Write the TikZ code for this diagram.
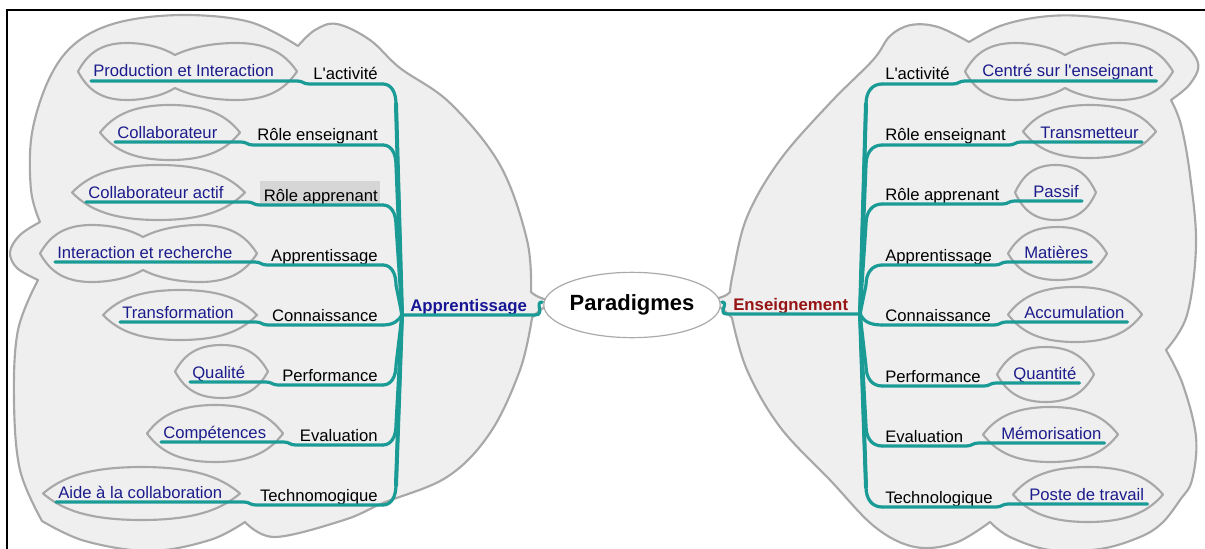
\documentclass[tikz,border=0pt]{standalone}
\usepackage{fontspec}
\setmainfont{Liberation Sans}
\usetikzlibrary{calc,shapes.geometric}

\definecolor{branch}{RGB}{26,155,150}
\definecolor{leafblue}{RGB}{28,28,140}
\definecolor{mainblue}{RGB}{22,22,150}
\definecolor{mainred}{RGB}{150,20,20}
\definecolor{blobfill}{RGB}{239,239,239}
\definecolor{blobline}{RGB}{168,168,168}
\definecolor{centerline}{RGB}{170,170,170}
\definecolor{hilite}{RGB}{214,214,214}

\tikzset{
  txt/.style={inner sep=0pt, font=\fontsize{12.5}{15}\selectfont},
  lbl/.style={txt, text=black},
  leaf/.style={txt, text=leafblue},
  ul/.style={draw=branch, line width=2.4pt, line cap=round, line join=round},
  trunk/.style={draw=branch, line width=3pt, line cap=round},
  cloudline/.style={draw=blobline, line width=1.6pt, line join=round},
  blob/.style={draw=blobline, fill=blobfill, line width=1.6pt, line join=round},
}

% single almond-shaped bubble: x1 y1 x2 y2
\newcommand\lens[4]{%
  \pgfmathsetmacro\clcx{(#1+#3)/2}\pgfmathsetmacro\clcy{(#2+#4)/2}%
  \pgfmathsetmacro\clw{#3-#1}\pgfmathsetmacro\clh{#4-#2}%
  \draw[cloudline] (#1,\clcy)
    .. controls (#1+0.08*\clw,\clcy-0.25*\clh) and (\clcx-0.3*\clw,#2) .. (\clcx,#2)
    .. controls (\clcx+0.3*\clw,#2) and (#3-0.08*\clw,\clcy-0.25*\clh) .. (#3,\clcy)
    .. controls (#3-0.08*\clw,\clcy+0.25*\clh) and (\clcx+0.3*\clw,#4) .. (\clcx,#4)
    .. controls (\clcx-0.3*\clw,#4) and (#1+0.08*\clw,\clcy+0.25*\clh) .. (#1,\clcy) -- cycle;}

% two-lobed bubble: x1 y1 x2 y2 notch-x notch-depth
\newcommand\dlens[6]{%
  \pgfmathsetmacro\clcy{(#2+#4)/2}\pgfmathsetmacro\clh{#4-#2}%
  \pgfmathsetmacro\clma{(#1+#5)/2}\pgfmathsetmacro\clmb{(#5+#3)/2}%
  \pgfmathsetmacro\clwa{\clma-#1}\pgfmathsetmacro\clwb{#3-\clmb}%
  \draw[cloudline] (#1,\clcy)
   .. controls (#1+0.16*\clwa,\clcy-0.25*\clh) and (\clma-0.6*\clwa,#2) .. (\clma,#2)
   .. controls (\clma+0.45*\clwa,#2) and (#5-0.2*\clwa,#2+0.5*#6) .. (#5,#2+#6)
   .. controls (#5+0.2*\clwb,#2+0.5*#6) and (\clmb-0.45*\clwb,#2) .. (\clmb,#2)
   .. controls (\clmb+0.6*\clwb,#2) and (#3-0.16*\clwb,\clcy-0.25*\clh) .. (#3,\clcy)
   .. controls (#3-0.16*\clwb,\clcy+0.25*\clh) and (\clmb+0.6*\clwb,#4) .. (\clmb,#4)
   .. controls (\clmb-0.45*\clwb,#4) and (#5+0.2*\clwb,#4-0.5*#6) .. (#5,#4-#6)
   .. controls (#5-0.2*\clwa,#4-0.5*#6) and (\clma+0.45*\clwa,#4) .. (\clma,#4)
   .. controls (\clma-0.6*\clwa,#4) and (#1+0.16*\clwa,\clcy+0.25*\clh) .. (#1,\clcy) -- cycle;}

% left-hand branch: id, underline y, label, leaf x, leaf text
\newcommand\lbranch[5]{%
  \node[lbl, anchor=base east] (#1) at (378,#2-4) {#3};
  \node[leaf, anchor=base west] (#1f) at (#4,#2-7) {#5};
  \draw[ul] ($(#1f.base west)+(-2,4)$) -- ($(#1.base west)+(-16,1)$)
     .. controls +(6,0) and +(-6,0) .. ($(#1.base west)+(-4,4)$) -- ($(#1.base east)+(5,4)$);
  \ifnum#2<300
    \draw[ul] ($(#1.base east)+(5,4)$) .. controls (391,#2) and (396,#2+8) .. (396,#2+20) -- (jl);
  \else\ifnum#2<340
    \draw[ul] ($(#1.base east)+(5,4)$) .. controls (394,#2) and (399,#2-5) .. (jl);
  \else
    \draw[ul] ($(#1.base east)+(5,4)$) .. controls (391,#2) and (396,#2-8) .. (396,#2-20) -- (jl);
  \fi\fi}

% right-hand branch: id, underline y, label, leaf x, leaf text
\newcommand\rbranch[5]{%
  \node[lbl, anchor=base west] (#1) at (885,#2-4) {#3};
  \node[leaf, anchor=base west] (#1f) at (#4,#2-7) {#5};
  \draw[ul] ($(#1f.base east)+(3,4)$) -- ($(#1.base east)+(15,1)$)
     .. controls +(-6,0) and +(6,0) .. ($(#1.base east)+(3,4)$) -- ($(#1.base west)+(-3,4)$);
  \ifnum#2<300
    \draw[ul] ($(#1.base west)+(-3,4)$) .. controls (872,#2) and (866,#2+8) .. (866,#2+20) -- (jr);
  \else\ifnum#2<340
    \draw[ul] ($(#1.base west)+(-3,4)$) .. controls (868,#2) and (863,#2-5) .. (jr);
  \else
    \draw[ul] ($(#1.base west)+(-3,4)$) .. controls (872,#2) and (866,#2-8) .. (866,#2-20) -- (jr);
  \fi\fi}

\begin{document}
\begin{tikzpicture}[x=0.75pt,y=-0.75pt]
\useasboundingbox (0,0) rectangle (1205,549);
\clip (0,0) rectangle (1205,549);

% frame
\draw[line width=1.5pt] (7,600) -- (7,10) -- (1250,10);

% left background cloud
\draw[blob]
  plot[smooth,tension=0.6] coordinates {(531,292) (527,240) (500,165) (450,103) (400,68) (370,40) (337,24) (315,30) (298,46)}
  -- plot[smooth,tension=0.6] coordinates {(298,46) (250,22) (184,15) (120,22) (77,42) (50,77) (32,133) (31,190) (40,222)}
  -- plot[smooth,tension=0.6] coordinates {(40,222) (20,235) (10,252) (17,268) (38,280)}
  -- plot[smooth,tension=0.6] coordinates {(38,280) (18,330) (14,400) (20,470) (42,521)}
  -- plot[smooth,tension=0.6] coordinates {(42,521) (85,541) (150,551) (210,540) (245,522)}
  -- plot[smooth,tension=0.6] coordinates {(245,522) (275,537) (344,520) (383,503) (447,477) (490,433) (520,370) (532,318)}
  .. controls (540,308) and (550,304) .. (557,303) .. controls (548,300) and (537,298) .. (531,292) -- cycle;

% right background cloud
\draw[blob]
  plot[smooth,tension=0.6] coordinates {(730,292) (733,273) (747,217) (780,160) (830,103) (873,60) (890,36) (911,25) (938,27) (969,42)}
  -- plot[smooth,tension=0.6] coordinates {(969,42) (1000,26) (1040,17) (1083,16) (1141,24) (1179,40) (1198,63) (1190,84) (1171,100)}
  -- plot[smooth,tension=0.6] coordinates {(1171,100) (1181,125) (1190,175) (1196,245) (1187,315) (1166,350)}
  -- plot[smooth,tension=0.6] coordinates {(1166,350) (1183,385) (1196,437) (1192,480) (1180,500) (1162,523) (1140,537) (1100,549) (1050,550) (1010,537) (990,522)}
  -- plot[smooth,tension=0.6] coordinates {(990,522) (955,543) (915,547) (875,527) (830,480) (780,427) (747,370) (732,318)}
  .. controls (722,307) and (712,302) .. (705,300) .. controls (714,299) and (725,298) .. (730,292) -- cycle;

% leaf bubbles, left
\dlens{78}{43}{297}{100}{175}{12}
\lens{100}{105}{240}{160}
\lens{72}{165}{245}{220}
\dlens{40}{225}{257}{282}{143}{12}
\lens{103}{290}{257}{340}
\lens{175}{345}{268}{398}
\lens{147}{405}{283}{462}
\lens{43}{467}{240}{520}
% leaf bubbles, right
\dlens{965}{43}{1173}{100}{1065}{12}
\lens{1023}{105}{1156}{158}
\lens{1015}{165}{1096}{220}
\lens{1008}{227}{1107}{280}
\lens{1008}{287}{1142}{342}
\lens{997}{347}{1094}{402}
\lens{983}{407}{1118}{462}
\lens{1013}{467}{1163}{522}

% highlighted label background
\fill[hilite] (260,181) rectangle (380,204);

% junctions of the two trunks
\coordinate (jl) at (402,315);
\coordinate (jr) at (860,314);
\draw[trunk] (396,104) -- (jl) -- (396,485);
\draw[trunk] (866,104) -- (jr) -- (866,487);

% left side
\lbranch{la}{84}{L\textquotesingle activité}{93}{Production et Interaction}
\lbranch{lb}{145}{Rôle enseignant}{117}{Collaborateur}
\lbranch{lc}{205}{Rôle apprenant}{88}{Collaborateur actif}
\lbranch{ld}{265}{Apprentissage}{57}{Interaction et recherche}
\lbranch{le}{325}{Connaissance}{122}{Transformation}
\lbranch{lf}{385}{Performance}{192}{Qualité}
\lbranch{lg}{445}{Evaluation}{163}{Compétences}
\lbranch{lh}{505}{Technomogique}{58}{Aide à la collaboration}

% right side
\rbranch{ra}{84}{L\textquotesingle activité}{982}{Centré sur l\textquotesingle enseignant}
\rbranch{rb}{145}{Rôle enseignant}{1040}{Transmetteur}
\rbranch{rc}{204}{Rôle apprenant}{1033}{Passif}
\rbranch{rd}{265}{Apprentissage}{1024}{Matières}
\rbranch{re}{325}{Connaissance}{1024}{Accumulation}
\rbranch{rf}{386}{Performance}{1013}{Quantité}
\rbranch{rg}{446}{Evaluation}{1001}{Mémorisation}
\rbranch{rh}{507}{Technologique}{1029}{Poste de travail}

% central topic and main branches
\node[ellipse, draw=centerline, line width=0.9pt, fill=white, minimum width=105pt,
      minimum height=49pt, inner sep=0pt, font=\fontsize{16.5}{20}\selectfont\bfseries] (c) at (632,305) {Paradigmes};
\node[txt, font=\fontsize{12.6}{15}\selectfont\bfseries, text=mainblue, anchor=base west] (app) at (410,311) {Apprentissage};
\node[txt, font=\fontsize{12.6}{15}\selectfont\bfseries, text=mainred, anchor=base west] (ens) at (733,310) {Enseignement};
\draw[ul] ($(c.west)+(-1,-3)$) .. controls +(-8,0) and +(10,0) .. ($(app.base east)+(8,4)$) -- (jl);
\draw[ul] ($(c.east)+(1,-3)$) .. controls +(8,0) and +(-10,0) .. ($(ens.base west)+(-6,4)$) -- (jr);
\end{tikzpicture}
\end{document}
